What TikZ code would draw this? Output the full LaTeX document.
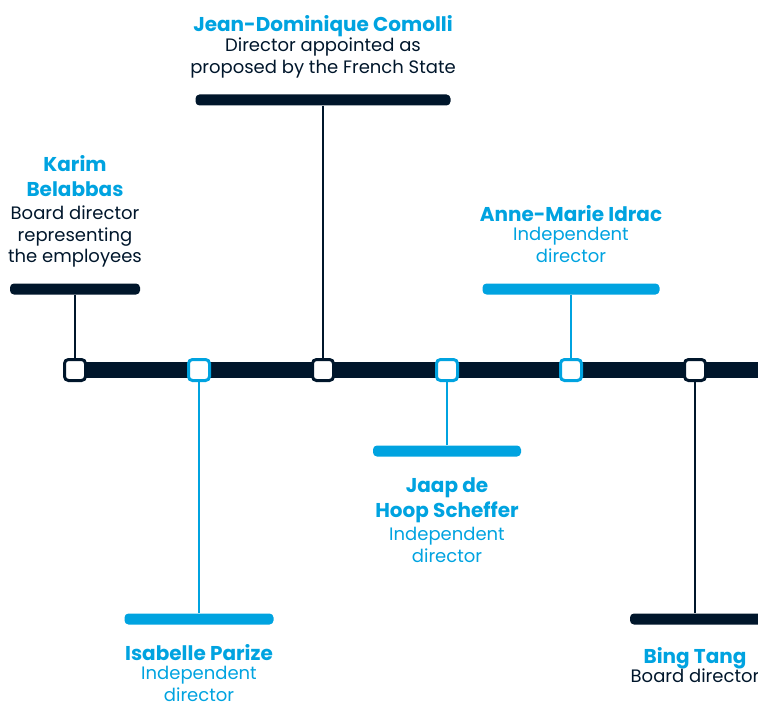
\documentclass[tikz,border=0pt]{standalone}
\usepackage{fontspec}
\setmainfont{Poppins}
\usepackage{tikz}
\definecolor{navy}{HTML}{00162B}
\definecolor{sky}{HTML}{00A3E0}
\tikzstyle{spine}=[navy,line width=16pt]
\tikzstyle{box}=[shape=rectangle,rounded corners=4pt,line width=3pt,fill=white,minimum size=21pt,inner sep=0pt]
\tikzstyle{plate}=[shape=rectangle,rounded corners=4pt,minimum height=11pt,inner sep=0pt]
\tikzstyle{stem}=[line width=2.8pt]
\tikzstyle{who}=[anchor=north,align=center,inner sep=0pt,text=sky,font=\fontsize{20}{25.5}\selectfont\bfseries]
\tikzstyle{role}=[anchor=north,align=center,inner sep=0pt,font=\fontsize{18}{21.5}\selectfont]

\begin{document}
\begin{tikzpicture}[x=1pt,y=-1pt]
        \useasboundingbox (0,0) rectangle (758,706);
        \coordinate (start) at (75,370);
        \coordinate (stop) at (790,370);
        \draw[spine] (start) -- (stop);
        \node[box,draw=navy] (s1) at (75,370) {};
        \node[box,draw=sky] (s2) at (199,370) {};
        \node[box,draw=navy] (s3) at (323,370) {};
        \node[box,draw=sky] (s4) at (447,370) {};
        \node[box,draw=sky] (s5) at (571,370) {};
        \node[box,draw=navy] (s6) at (695,370) {};
        % above the line
        \node[plate,fill=navy,minimum width=130pt] (p1) at (75,289) {}
            edge[stem,navy] (s1)
        ;
        \node[who] (n1) at (75,155) {Karim\\Belabbas};
        \node[role,text=navy] (r1) at (75,206) {Board director\\representing\\the employees};
        \node[plate,fill=navy,minimum width=255pt] (p3) at (323,100) {}
            edge[stem,navy] (s3)
        ;
        \node[who] (n3) at (323,15) {Jean-Dominique Comolli};
        \node[role,text=navy] (r3) at (323,38) {Director appointed as\\proposed by the French State};
        \node[plate,fill=sky,minimum width=177pt] (p5) at (571,289) {}
            edge[stem,sky] (s5)
        ;
        \node[who] (n5) at (571,205) {Anne-Marie Idrac};
        \node[role,text=sky] (r5) at (571,227) {Independent\\director};
        % below the line
        \node[plate,fill=sky,minimum width=149pt] (p2) at (199,619) {}
            edge[stem,sky] (s2)
        ;
        \node[who] (n2) at (199,644) {Isabelle Parize};
        \node[role,text=sky] (r2) at (199,666) {Independent\\director};
        \node[plate,fill=sky,minimum width=148pt] (p4) at (447,451) {}
            edge[stem,sky] (s4)
        ;
        \node[who] (n4) at (447,477) {Jaap de\\Hoop Scheffer};
        \node[role,text=sky] (r4) at (447,527) {Independent\\director};
        \node[plate,fill=navy,minimum width=160pt] (p6) at (710,619) {};
        \draw[stem,navy] (s6) -- (s6 |- p6.north);
        \node[who] (n6) at (695,647) {Bing Tang};
        \node[role,text=navy] (r6) at (695,669) {Board director};
    \end{tikzpicture}
\end{document}
